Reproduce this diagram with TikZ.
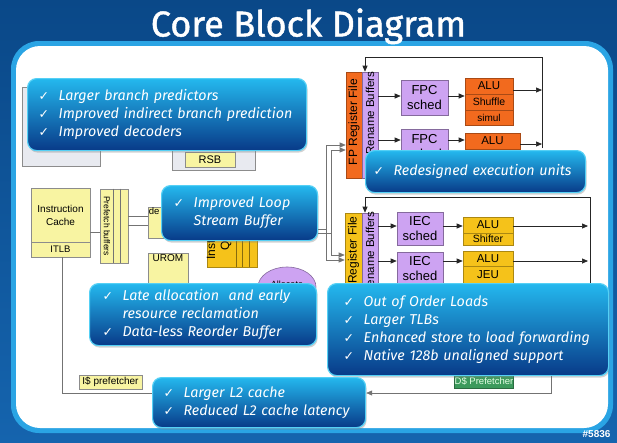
\documentclass[tikz,border=0pt]{standalone}
\usepackage{fontspec}
\setmainfont{Liberation Sans}
\newfontfamily\cofont{Fira Sans}
\newfontfamily\tfont[FakeBold=1.2]{Fira Sans}
\newfontfamily\ckfont{DejaVu Sans}
\usetikzlibrary{arrows.meta,shadows,shapes.geometric,calc}

\definecolor{bgtop}{HTML}{0A4888}
\definecolor{bgbot}{HTML}{1564AE}
\definecolor{rimblue}{HTML}{2AA4E4}
\definecolor{lyel}{HTML}{F8F4A2}
\definecolor{gold}{HTML}{F5C21A}
\definecolor{orng}{HTML}{F26A1E}
\definecolor{purp}{HTML}{CDA3F2}
\definecolor{dgreen}{HTML}{3C9A5C}
\definecolor{gbox}{HTML}{E8EAF0}
\definecolor{cotop}{HTML}{24B8EE}
\definecolor{cobot}{HTML}{083A88}
\definecolor{coedge}{HTML}{55D0F5}

\newcommand{\setfs}[1]{\fontsize{#1}{#1}\selectfont}
\newcommand{\ck}{\makebox[20pt][l]{\ckfont\upshape\fontsize{12.5}{12.5}\selectfont ✓}}

\tikzset{
  box/.style={inner sep=0pt, line width=0.6pt},
  yel/.style={box, fill=lyel, draw=black!45},
  grayb/.style={box, fill=gbox, draw=black!45},
  goldb/.style={box, fill=gold, draw=gold!70!black},
  orb/.style={box, fill=orng, draw=orng!70!black},
  purb/.style={box, fill=purp, draw=purp!65!black},
  greenb/.style={box, fill=dgreen, draw=dgreen!70!black, text=green!10!white},
  wire/.style={draw=black!55, line width=0.6pt},
  bwire/.style={draw=black!85, line width=0.7pt},
  arr/.style={-{Triangle[length=6pt,width=5pt]}},
  callout/.style={rounded corners=9pt, top color=cotop, bottom color=cobot,
    draw=coedge, line width=1.2pt, text=white, anchor=north west,
    font=\cofont\itshape\fontsize{14.3}{18}\selectfont, align=left, inner ysep=0pt,
    drop shadow={opacity=0.35, shadow xshift=1pt, shadow yshift=-2pt}},
}

\begin{document}
\begin{tikzpicture}[x=1pt,y=-1pt]
\useasboundingbox (0,0) rectangle (617,442);
% background
\shade[top color=bgtop, bottom color=bgbot] (0,0) rectangle (617,442);
\fill[rimblue, rounded corners=28pt] (11,41) rectangle (613,433);
\fill[white, rounded corners=24pt] (16,46) rectangle (608,428);
\node[font=\tfont\setfs{36}, text=white, anchor=base] (title) at (308.5,36.5) {Core Block Diagram};

% front end
\node[grayb, minimum width=78pt, minimum height=79pt] (bpbox) at (61,126.5) {};
\node[grayb, minimum width=83pt, minimum height=30pt] (rsbbox) at (213.5,155) {};
\node[yel, minimum width=50pt, minimum height=15pt, font=\setfs{11}] (rsb) at (210,159.5) {RSB};
\node[yel, minimum width=59pt, minimum height=54pt, align=center, font=\fontsize{10}{13}\selectfont] (ic) at (60.5,215) {Instruction\\Cache};
\node[yel, minimum width=59pt, minimum height=15pt, font=\setfs{9.5}] (itlb) at (60.5,249.5) {ITLB};
\node[yel, minimum width=28pt, minimum height=74pt] (pf) at (114,226) {};
\node[rotate=270, font=\setfs{8.5}] (pftext) at (107,226) {Prefetch buffers};
\draw[wire] ($(pf.north west)+(14,0)$) -- ($(pf.south west)+(14,0)$);
\draw[wire] ($(pf.north west)+(21,0)$) -- ($(pf.south west)+(21,0)$);
\node[yel, minimum width=52pt, minimum height=31pt] (dec) at (174,222.5) {};
\node[anchor=north west, inner sep=1pt, font=\setfs{9.5}] (dectext) at (dec.north west) {de};
\node[goldb, minimum width=50pt, minimum height=72pt] (iq) at (232,231) {};
\foreach \dx in {30,36,43}{\draw[wire, draw=gold!55!black] ($(iq.north west)+(\dx,0)$) -- ($(iq.south west)+(\dx,0)$);}
\node[rotate=90, align=center, font=\fontsize{12}{14}\selectfont] (iqtext) at (219,232) {Instruction\\Queue};
\node[yel, minimum width=40pt, minimum height=47pt] (urom) at (168,276.5) {};
\node[anchor=north, inner sep=2pt, font=\setfs{10}] (uromtext) at (urom.north) {UROM};
\node[ellipse, draw=purp!65!black, fill=purp, minimum width=58pt, minimum height=40pt, inner sep=0pt, line width=0.6pt] (alloc) at (287,287) {};
\node[font=\setfs{9}] (alloctext) at (287,284) {Allocate};
\node[yel, minimum width=63pt, minimum height=14pt, font=\setfs{10}] (ipf) at (110.5,382) {I\$ prefetcher};
\node[greenb, minimum width=58pt, minimum height=13pt, font=\setfs{9.5}] (dpf) at (484,381.5) {D\$ Prefetcher};

% FP cluster
\node[orb, minimum width=16pt, minimum height=106pt] (fprf) at (354,125) {};
\node[rotate=90, font=\setfs{12}] (fprftext) at (354,122) {FP Register File};
\node[purb, minimum width=16pt, minimum height=106pt] (fprn) at (370,125) {};
\node[rotate=90, font=\setfs{11.5}] (fprntext) at (370,113) {Rename Buffers};
\node[purb, minimum width=47pt, minimum height=35pt, align=center, font=\fontsize{13}{15}\selectfont] (fpcs1) at (424.5,97.5) {FPC\\sched};
\node[purb, minimum width=47pt, minimum height=36pt, align=center, font=\fontsize{13}{15}\selectfont] (fpcs2) at (424.5,147) {FPC\\sched};
\node[orb, minimum width=48pt, minimum height=16pt, font=\setfs{11.5}] (alu1) at (489,86) {ALU};
\node[orb, minimum width=48pt, minimum height=16pt, font=\setfs{10.5}] (shuf) at (489,102) {Shuffle};
\node[orb, minimum width=48pt, minimum height=15pt, font=\setfs{10}] (simul) at (489,117.5) {simul};
\node[orb, minimum width=55pt, minimum height=16pt, font=\setfs{11.5}] (alu2) at (492.5,141) {ALU};
\node[orb, minimum width=55pt, minimum height=16pt] (alu2b) at (492.5,157) {};

% Integer cluster
\node[goldb, minimum width=17pt, minimum height=74pt] (intrf) at (353.5,250) {};
\node[rotate=90, font=\setfs{12}] (intrftext) at (353.5,250) {Register File};
\node[purb, minimum width=16pt, minimum height=80pt] (intrn) at (370,253) {};
\node[rotate=90, font=\setfs{11.5}] (intrntext) at (370,253) {Rename Buffers};
\node[purb, minimum width=46pt, minimum height=33pt, align=center, font=\fontsize{13}{15}\selectfont] (iecs1) at (420,228.5) {IEC\\sched};
\node[purb, minimum width=46pt, minimum height=33pt, align=center, font=\fontsize{13}{15}\selectfont] (iecs2) at (420,268.5) {IEC\\sched};
\node[goldb, minimum width=50pt, minimum height=16pt, font=\setfs{11.5}] (ialu1) at (488,225) {ALU};
\node[goldb, minimum width=50pt, minimum height=12pt, font=\setfs{10.5}] (shift) at (488,239) {Shifter};
\node[goldb, minimum width=50pt, minimum height=15pt, font=\setfs{11.5}] (ialu2) at (488,258.5) {ALU};
\node[goldb, minimum width=50pt, minimum height=17pt, font=\setfs{11.5}] (jeu) at (488,274.5) {JEU};

% coordinates
\coordinate (fpR) at (542,57);
\coordinate (fpL) at (365,57);
\coordinate (fpbus) at (542,148);
\coordinate (fprow1) at (0,96);
\coordinate (fprow2) at (0,140);
\coordinate (fpout1) at (0,90);
\coordinate (fpout2) at (0,144);
\coordinate (inR) at (590,197);
\coordinate (inL) at (365,197);
\coordinate (inbus) at (590,283);
\coordinate (inrow1) at (0,226);
\coordinate (inrow2) at (0,261);
\coordinate (busA) at (326,229);
\coordinate (busB) at (331,233);
\coordinate (fpin1) at (0,145);
\coordinate (fpin2) at (0,150);
\coordinate (inin1) at (0,255);
\coordinate (inin2) at (0,260);
\coordinate (dcorner) at (551,393);
\coordinate (lcorner) at (62,393);

% front-end wires
\draw[wire] (ic.east |- 0,232) -- (pf.west |- 0,232);
\draw[wire] (pf.east |- 0,216) -- (dec.west |- 0,216);
\draw[wire] (pf.east |- 0,225) -- (dec.west |- 0,225);
\draw[wire] (itlb.south -| lcorner) -- (lcorner) -- (lcorner -| 152,0);

% FP wires
\draw[bwire] (fpbus) -- (fpR) -- (fpL);
\draw[bwire, arr] (fpL) -- (fpL |- fprn.north);
\draw[bwire, arr] (fprn.east |- fprow1) -- (fpcs1.west |- fprow1);
\draw[bwire, arr] (fprn.east |- fprow2) -- (fpcs2.west |- fprow2);
\draw[bwire, arr] (fpcs1.east |- fprow1) -- (shuf.west |- fprow1);
\draw[bwire, arr] (fpcs2.east |- fprow2) -- (alu2.west |- fprow2);
\draw[bwire, arr] (alu1.east |- fpout1) -- (fpbus |- fpout1);
\draw[bwire, arr] (alu2.east |- fpout2) -- (fpbus |- fpout2);

% Integer wires
\draw[bwire] (inbus) -- (inR) -- (inL);
\draw[bwire, arr] (inL) -- (inL |- intrn.north);
\draw[bwire, arr] (intrn.east |- inrow1) -- (iecs1.west |- inrow1);
\draw[bwire, arr] (intrn.east |- inrow2) -- (iecs2.west |- inrow2);
\draw[bwire, arr] (iecs1.east |- inrow1) -- (ialu1.west |- inrow1);
\draw[bwire, arr] (iecs2.east |- inrow2) -- (ialu2.west |- inrow2);
\draw[bwire, arr] (ialu1.east |- inrow1) -- ($(inbus |- inrow1)+(-2,0)$);
\draw[bwire, arr] (ialu2.east |- inrow2) -- ($(inbus |- inrow2)+(-2,0)$);

% bus from loop stream buffer
\draw[wire, arr] (busA -| 317,0) -- (busA) -- (busA |- fpin1) -- (fprf.west |- fpin1);
\draw[wire, arr] (busB -| 317,0) -- (busB) -- (busB |- fpin2) -- (fprf.west |- fpin2);
\draw[wire, arr] (busA) -- (busA |- inin2) -- (intrf.west |- inin2);
\draw[wire, arr] (busB) -- (busB |- inin1) -- (intrf.west |- inin1);

% D$ wire
\draw[wire] (dcorner |- 0,370) -- (dcorner);

% callouts
\node[callout, minimum height=72pt, text width=257pt, inner xsep=11pt] (c1) at (27,78)
  {\ck Larger branch predictors\\ \ck Improved indirect branch prediction\\ \ck Improved decoders};
\node[callout, minimum height=55pt, text width=132pt, inner xsep=12pt] (c2) at (161,185)
  {\ck Improved Loop\\ \hspace*{20pt}Stream Buffer};
\node[callout, minimum height=42pt, text width=204pt, inner xsep=8pt] (c3) at (365,150)
  {\ck Redesigned execution units};
\node[callout, minimum height=62pt, text width=201pt, inner xsep=13pt] (c4) at (89,283)
  {\ck Late allocation\ \ and early\\ \hspace*{20pt}resource reclamation\\ \ck Data-less Reorder Buffer};
\node[callout, minimum height=92pt, text width=249pt, inner xsep=16pt] (c5) at (327,283)
  {\ck Out of Order Loads\\ \ck Larger TLBs\\ \ck Enhanced store to load forwarding\\ \ck Native 128b unaligned support};
\node[callout, minimum height=50pt, text width=191pt, inner xsep=11pt] (c6) at (152,377)
  {\ck Larger L2 cache\\ \ck Reduced L2 cache latency};

\draw[wire, arr] (c5.south -| dcorner) -- (dcorner) -- (c6.east |- dcorner);

\node[font=\bfseries\setfs{10}, text=white, anchor=east] (wm) at (614,434) {\#5836};
\end{tikzpicture}
\end{document}
